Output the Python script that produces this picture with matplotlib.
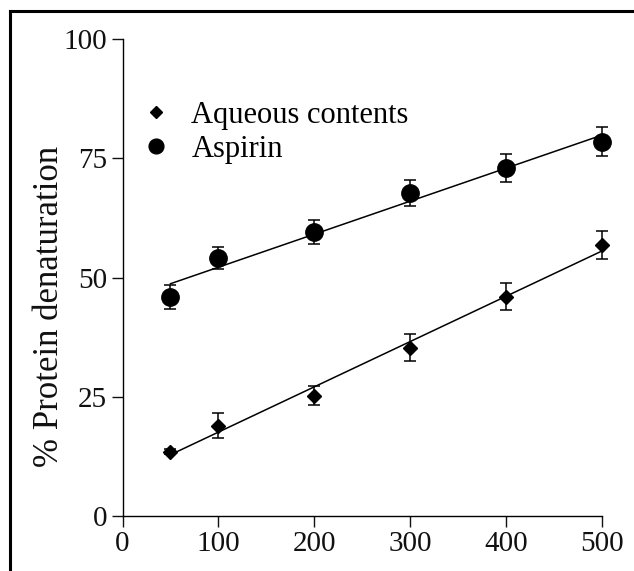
import matplotlib
matplotlib.use('Agg')
import matplotlib.pyplot as plt
from matplotlib.lines import Line2D
import numpy as np

plt.rcParams['font.family'] = ['Liberation Serif', 'DejaVu Serif']

conc = np.array([50, 100, 200, 300, 400, 500])
aqueous = np.array([13.5, 18.9, 25.2, 35.3, 46.0, 56.8])
aqueous_err = np.array([0.5, 2.6, 2.0, 2.9, 2.9, 2.9])
aspirin = np.array([46.0, 54.0, 59.5, 67.7, 73.0, 78.5])
aspirin_err = np.array([2.5, 2.3, 2.5, 2.8, 2.9, 3.0])

xticks = [0, 100, 200, 300, 400, 500]
yticks = [0, 25, 50, 75, 100]

fig = plt.figure(figsize=(6.34, 5.71), dpi=100)
ax = fig.add_axes([122.5 / 634, 1 - 516 / 571, (602 - 122.5) / 634, (516 - 39) / 571])

series = [(aqueous, aqueous_err, 'D', 7.5, 'Aqueous contents'),
          (aspirin, aspirin_err, 'o', 12.5, 'Aspirin')]
handles = []
for vals, err, mk, ms, lab in series:
    ax.errorbar(conc, vals, yerr=err, fmt=mk, color='black', markersize=ms,
                ecolor='black', elinewidth=1.1, capsize=4.5, capthick=1.1,
                clip_on=False, zorder=3)
    k, b = np.polyfit(conc, vals, 1)
    xs = np.array([conc[0], conc[-1]])
    ax.plot(xs, k * xs + b, color='black', lw=1.1, zorder=2)
    handles.append(Line2D([], [], marker=mk, linestyle='none', color='black',
                          markersize=ms * 0.85, label=lab))

ax.set_xlim(0, 500)
ax.set_ylim(0, 100)
ax.set_xticks(xticks)
ax.set_yticks(yticks)
ax.tick_params(labelsize=21, length=8, width=1.0, colors='#111111', pad=3)
for s in ['top', 'right']:
    ax.spines[s].set_visible(False)
for s in ['left', 'bottom']:
    ax.spines[s].set_linewidth(1.0)
ax.set_ylabel('% Protein denaturation', fontsize=25, color='#111111',
              labelpad=-2, y=0.44)

ax.legend(handles=handles, loc='upper left', bbox_to_anchor=(0.0, 0.915),
          frameon=False, fontsize=22, handlelength=0.8, handletextpad=0.75,
          labelspacing=0.15, borderaxespad=0.3)

# cropped frame of the source figure
fig.add_artist(Line2D([10 / 634, 10 / 634], [0, 1 - 11 / 571], color='black', lw=2.2))
fig.add_artist(Line2D([10 / 634, 1], [1 - 11 / 571, 1 - 11 / 571], color='black', lw=2.2))

fig.savefig('out.png', dpi=100)
